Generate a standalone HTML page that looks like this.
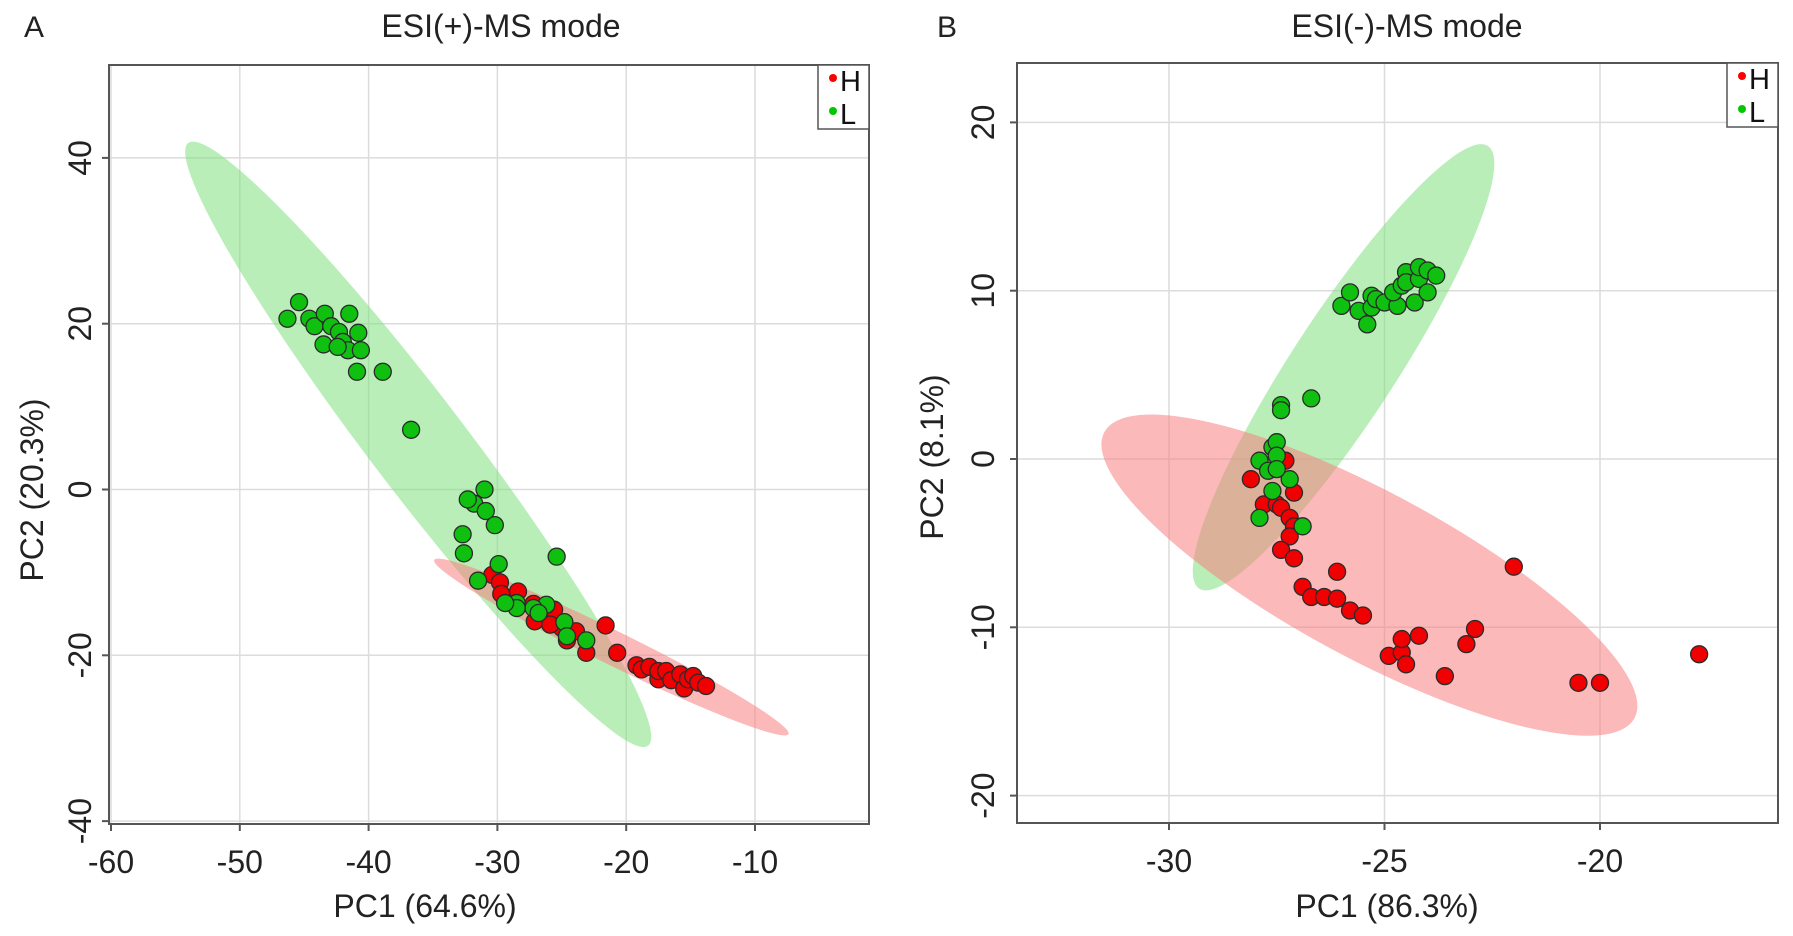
<!DOCTYPE html>
<html><head><meta charset="utf-8"><style>
body{margin:0;background:#fff;}
svg{display:block;font-family:"Liberation Sans",Arial,sans-serif;}
</style></head><body>
<svg id="chart" width="1793" height="936" viewBox="0 0 1793 936" xmlns="http://www.w3.org/2000/svg">
<rect width="1793" height="936" fill="#fff"/>
</svg>
<script>
// Panel A data (ESI+)
const aHx = [-30.4,-29.8,-29.7,-28.4,-27.2,-27.1,-25.6,-25.0,-24.6,-23.1,-21.6,-20.7,-19.2,-18.8,-18.2,-17.5,-17.5,-16.9,-16.5,-15.8,-15.5,-15.2,-14.8,-14.4,-13.8,-23.9,-25.9];
const aHy = [-10.3,-11.2,-12.6,-12.3,-13.8,-15.9,-14.5,-16.7,-18.2,-19.7,-16.4,-19.7,-21.2,-21.7,-21.4,-22.9,-21.9,-21.9,-23.0,-22.3,-24.0,-22.9,-22.5,-23.3,-23.7,-17.1,-16.3];
const aLx = [-46.3,-45.4,-44.6,-44.2,-43.4,-42.9,-43.5,-42.3,-41.5,-42.0,-40.8,-41.6,-40.6,-42.4,-40.9,-38.9,-36.7,-31.0,-31.8,-32.3,-30.9,-30.2,-32.7,-32.6,-29.9,-31.5,-25.4,-28.5,-26.2,-27.2,-26.8,-24.8,-24.6,-23.1,-28.5,-29.4];
const aLy = [20.6,22.6,20.6,19.7,21.2,19.7,17.5,19.0,21.2,17.8,18.9,16.8,16.8,17.2,14.2,14.2,7.2,0,-1.7,-1.2,-2.6,-4.3,-5.4,-7.7,-9.0,-11.0,-8.1,-13.7,-13.9,-14.3,-14.9,-16.0,-17.7,-18.2,-14.3,-13.7];
const aXTicks = [-60,-50,-40,-30,-20,-10];
const aYTicks = [40,20,0,-20,-40];
// Panel B data (ESI-)
const bHx = [-28.1,-27.8,-27.5,-27.4,-27.2,-27.1,-27.1,-27.2,-27.4,-27.1,-26.9,-26.7,-26.4,-26.1,-26.1,-25.8,-25.5,-24.9,-24.6,-24.6,-24.5,-24.2,-23.6,-23.1,-22.9,-22.0,-20.5,-20.0,-17.7,-27.3];
const bHy = [-1.2,-2.7,-2.7,-2.9,-3.5,-2.0,-4.0,-4.6,-5.4,-5.9,-7.6,-8.2,-8.2,-8.3,-6.7,-9.0,-9.3,-11.7,-11.5,-10.7,-12.2,-10.5,-12.9,-11.0,-10.1,-6.4,-13.3,-13.3,-11.6,-0.1];
const bLx = [-26.0,-25.8,-25.6,-25.4,-25.3,-25.3,-25.2,-25.0,-24.7,-24.8,-24.6,-24.5,-24.5,-24.3,-24.2,-24.2,-24.0,-24.0,-23.8,-27.4,-27.4,-26.7,-27.6,-27.5,-27.9,-27.5,-27.7,-27.6,-27.2,-27.9,-26.9,-27.5];
const bLy = [9.1,9.9,8.8,8.0,9.7,9.0,9.5,9.3,9.1,9.9,10.3,11.1,10.5,9.3,10.7,11.4,11.2,9.9,10.9,3.2,2.9,3.6,0.7,1.0,-0.1,0.2,-0.7,-1.9,-1.2,-3.5,-4.0,-0.6];
const bXTicks = [-30,-25,-20];
const bYTicks = [20,10,0,-10,-20];

const NS = "http://www.w3.org/2000/svg";
const svg = document.getElementById('chart');
function mk(tag, attrs, parent, text){
  const e = document.createElementNS(NS, tag);
  for (const k in attrs) e.setAttribute(k, attrs[k]);
  if (text !== undefined) e.textContent = text;
  (parent||svg).appendChild(e);
  return e;
}
function panel(cfg){
  const g = mk('g', {});
  
  
  const sx = v => cfg.x0px + (v - cfg.x0) * cfg.kx;
  const sy = v => cfg.y0px - v * cfg.ky;
  cfg.xt.forEach(t => {
    const l = mk('line', {x1:sx(t),x2:sx(t),y1:cfg.top,y2:cfg.bottom,stroke:'#dcdcdc','stroke-width':1.5}, g);
    
    
  });
  cfg.yt.forEach(t => {
    const l = mk('line', {x1:cfg.left,x2:cfg.right,y1:sy(t),y2:sy(t),stroke:'#dcdcdc','stroke-width':1.5}, g);
    
    
  });
  cfg.ell.forEach(E => {
    const x1 = sx(E.a[0]), y1 = sy(E.a[1]), x2 = sx(E.b[0]), y2 = sy(E.b[1]);
    const cx = (x1+x2)/2, cy = (y1+y2)/2;
    const rx = Math.hypot(x2-x1, y2-y1)/2;
    const ang = Math.atan2(y2-y1, x2-x1)*180/Math.PI;
    const e = mk('ellipse', {cx:cx,cy:cy,rx:rx,ry:E.w,fill:E.c,'fill-opacity':0.55,transform:`rotate(${ang} ${cx} ${cy})`}, g);
    
    
  });
  cfg.series.forEach(S => {
    S.x.forEach((v,i) => {
      const c = mk('circle', {cx:sx(v),cy:sy(S.y[i]),r:8.5,fill:S.c,stroke:'#2a2a2a','stroke-width':1.3}, g);
      
      
    });
  });
  const fr = mk('rect', {x:cfg.left,y:cfg.top,width:cfg.right-cfg.left,height:cfg.bottom-cfg.top,fill:'none',stroke:'#555','stroke-width':2}, g);
  
  
  cfg.xt.forEach(t => {
    mk('line', {x1:sx(t),x2:sx(t),y1:cfg.bottom,y2:cfg.bottom+7,stroke:'#555','stroke-width':2}, g);
    const tx = mk('text', {x:sx(t),y:cfg.bottom+49,'text-anchor':'middle','font-size':32,fill:'#222'}, g, String(t));
    
    
  });
  cfg.yt.forEach(t => {
    mk('line', {x1:cfg.left-7,x2:cfg.left,y1:sy(t),y2:sy(t),stroke:'#555','stroke-width':2}, g);
    const ty = mk('text', {x:0,y:0,'text-anchor':'middle','font-size':32,fill:'#222',transform:`translate(${cfg.left-cfg.ytOff} ${sy(t)}) rotate(-90)`}, g, String(t));
    
    
  });
  const xtl = mk('text', {x:cfg.xlabX,y:917,'text-anchor':'middle','font-size':32,fill:'#222'}, g, cfg.xlab);
  
  
  const ytl = mk('text', {x:0,y:0,'text-anchor':'middle','font-size':32,fill:'#222',transform:`translate(${cfg.ylabX} ${cfg.ylabY}) rotate(-90)`}, g, cfg.ylab);
  
  
  const ti = mk('text', {x:cfg.titleX,y:37,'text-anchor':'middle','font-size':32,fill:'#222'}, g, cfg.title);
  
  
  const pl = mk('text', {x:cfg.letterX,y:37,'font-size':30,fill:'#222'}, g, cfg.letter);
  
  
  const lg = mk('g', {}, g);
  
  
  mk('rect', {x:cfg.right-51,y:cfg.top,width:51,height:64,fill:'#fff',stroke:'#555','stroke-width':1.5}, lg);
  [['H','#ff0000',0],['L','#00c800',1]].forEach(([lab,col,i]) => {
    const en = mk('g', {}, lg);
    
    
    mk('circle', {cx:cfg.right-36,cy:cfg.top+13+i*33,r:4,fill:col}, en);
    mk('text', {x:cfg.right-29,y:cfg.top+26+i*33,'font-size':29,fill:'#111'}, en, lab);
  });
}
panel({name:'panel-a-esi-positive', left:109,right:869,top:65,bottom:824,
  x0:-60,x0px:111,kx:12.88,y0px:489.5,ky:8.29,xt:aXTicks,yt:aYTicks,ytOff:18,
  ell:[{a:[-54.0,41.8],b:[-18.3,-30.9],w:48,c:'#7fe07f',n:'ellipse-l'},
       {a:[-34.9,-8.5],b:[-7.4,-29.5],w:17,c:'#f77f7f',n:'ellipse-h'}],
  series:[{x:aHx,y:aHy,c:'#f00000',n:'point-h'},{x:aLx,y:aLy,c:'#10c010',n:'point-l'}],
  xlab:'PC1 (64.6%)', xlabX:425, ylab:'PC2 (20.3%)', ylabX:43, ylabY:490, title:'ESI(+)-MS mode', titleX:501, letter:'A', letterX:24});
panel({name:'panel-b-esi-negative', left:1017,right:1778,top:63,bottom:823,
  x0:-30,x0px:1169,kx:43.1,y0px:459,ky:16.83,xt:bXTicks,yt:bYTicks,ytOff:23,
  ell:[{a:[-29.3,-7.7],b:[-22.6,18.6],w:52,c:'#7fe07f',n:'ellipse-l'},
       {a:[-31.5,1.6],b:[-19.2,-15.4],w:83,c:'#f77f7f',n:'ellipse-h'}],
  series:[{x:bHx,y:bHy,c:'#f00000',n:'point-h'},{x:bLx,y:bLy,c:'#10c010',n:'point-l'}],
  xlab:'PC1 (86.3%)', xlabX:1387, ylab:'PC2 (8.1%)', ylabX:943, ylabY:457, title:'ESI(-)-MS mode', titleX:1407, letter:'B', letterX:937});
</script>
</body></html>
